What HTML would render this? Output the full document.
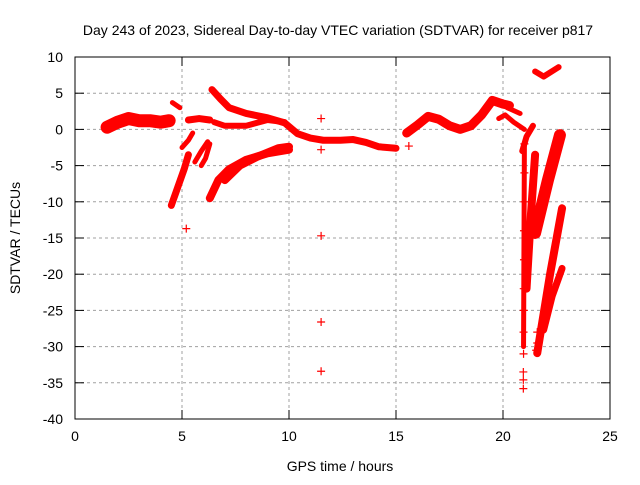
<!DOCTYPE html>
<html><head><meta charset="utf-8"><style>
body{margin:0;background:#fff}
text{font-family:"Liberation Sans",sans-serif;font-size:14px;fill:#000}
</style></head><body>
<svg id="chart" width="640" height="480" xmlns="http://www.w3.org/2000/svg">
<rect width="640" height="480" fill="#fff"/>
<text x="338" y="35" text-anchor="middle">Day 243 of 2023, Sidereal Day-to-day VTEC variation (SDTVAR) for receiver p817</text>
<g id="grid"></g><g id="marks"></g><g id="axes"></g>
<text x="340" y="471" text-anchor="middle">GPS time / hours</text>
<text transform="translate(20,238) rotate(-90)" text-anchor="middle">SDTVAR / TECUs</text>
</svg>
<script>
const xTicks=[0,5,10,15,20,25];
const yTicks=[10,5,0,-5,-10,-15,-20,-25,-30,-35,-40];
const seriesBands=[
 [[1.5,0.3],[2.0,1.0],[2.5,1.5],[3.0,1.2],[3.5,1.2],[4.0,1.0],[4.4,1.2]],
 [[4.55,3.7],[4.9,3.0]],
 [[4.5,-10.5],[4.8,-8],[5.1,-5.5],[5.3,-3.5]],
 [[5.0,-2.5],[5.3,-1.5],[5.5,-0.5]],
 [[5.3,1.3],[5.8,1.5],[6.3,1.3]],
 [[5.6,-4.5],[5.9,-3],[6.2,-1.7]],
 [[5.9,-5],[6.1,-4],[6.3,-2]],
 [[6.4,5.5],[6.8,4.2],[7.2,3.0],[8.0,2.2],[9.0,1.6],[9.8,0.9],[10.4,-0.6],[11.0,-1.2],[11.6,-1.5],[12.4,-1.5],[13.0,-1.4],[13.6,-1.8],[14.2,-2.4],[15.0,-2.6]],
 [[6.5,1.0],[7.0,0.5],[8.0,0.5],[9.0,1.3],[9.8,1.0]],
 [[6.3,-9.5],[6.7,-7],[7.2,-5.5],[8.0,-4.2],[9.0,-3.3],[10.0,-2.8]],
 [[7.0,-7],[7.7,-5],[8.5,-3.8],[9.5,-2.6],[10.0,-2.4]],
 [[15.5,-0.5],[16.0,0.6],[16.5,1.8],[17.0,1.4],[17.5,0.5],[18.0,0.0],[18.5,0.5],[19.0,2.0],[19.5,4.0],[20.0,3.5],[20.3,3.3]],
 [[19.8,1.5],[20.1,2.0],[20.5,1.0],[21.0,0.0]],
 [[20.2,3.0],[20.8,2.2]],
 [[20.9,-3],[21.1,-1],[21.4,0.5]],
 [[21.5,8.0],[21.9,7.3],[22.6,8.6]],
 [[21.5,-3.5],[21.3,-12],[21.1,-22]],
 [[22.66,-0.8],[22.1,-7],[21.5,-14.3]],
 [[22.76,-10.9],[22.2,-20],[21.6,-30.9]],
 [[22.76,-19.2],[22.3,-23],[21.9,-27.7]],
 [[21.0,-2],[20.98,-16],[20.96,-30]]
];
const bandWidths=[13,5,7,5,7,5,5,7,6,8,8,9,5,5,6,6,8,12,8,7,5];
const sparseHours=[21.0,21.0,21.0,20.98,20.98,20.97,20.97,20.96,20.96,20.95,20.95,20.95,5.2,11.5,11.5,11.5,11.5,11.5,15.6,21.6,21.6,21.55];
const sparseValues=[-2,-6,-10,-14,-18,-22,-25,-28,-31,-33.5,-34.6,-35.8,-13.7,1.5,-2.8,-14.7,-26.6,-33.4,-2.3,-28,-29.5,-30.5];
const NS="http://www.w3.org/2000/svg";
const X=h=>75+h*(535/25), Y=v=>57+(10-v)*(362/50);
const grid=document.getElementById('grid'),axes=document.getElementById('axes'),marks=document.getElementById('marks');
function el(t,a,p){const e=document.createElementNS(NS,t);for(const k in a)e.setAttribute(k,a[k]);p.appendChild(e);return e;}
xTicks.forEach(t=>{
 if(t>0&&t<25){const g=el('line',{x1:X(t),x2:X(t),y1:57,y2:419,stroke:'#a0a0a0','stroke-dasharray':'3,3'},grid);
 
 }
 el('line',{x1:X(t),x2:X(t),y1:419,y2:410,stroke:'#000'},axes);
 el('line',{x1:X(t),x2:X(t),y1:57,y2:66,stroke:'#000'},axes);
 const l=el('text',{x:X(t),y:441,'text-anchor':'middle'},axes);l.textContent=t;
 
 
});
yTicks.forEach(t=>{
 if(t<10&&t>-40){const g=el('line',{x1:75,x2:610,y1:Y(t),y2:Y(t),stroke:'#a0a0a0','stroke-dasharray':'3,3'},grid);
 
 }
 el('line',{x1:75,x2:84,y1:Y(t),y2:Y(t),stroke:'#000'},axes);
 el('line',{x1:601,x2:610,y1:Y(t),y2:Y(t),stroke:'#000'},axes);
 const l=el('text',{x:63,y:Y(t)+5,'text-anchor':'end'},axes);l.textContent=t;
 
 
});
const fr=el('rect',{x:75,y:57,width:535,height:362,fill:'none',stroke:'#000'},axes);


seriesBands.forEach((s,i)=>{
 const p=el('polyline',{points:s.map(d=>X(d[0])+','+Y(d[1])).join(' '),fill:'none',stroke:'#ff0000','stroke-width':bandWidths[i],'stroke-linecap':'round','stroke-linejoin':'round'},marks);
 
 
});
sparseHours.forEach((h,i)=>{
 const x=X(h),y=Y(sparseValues[i]);
 const m=el('path',{d:`M${x-4},${y}H${x+4}M${x},${y-4}V${y+4}`,stroke:'#ff0000','stroke-width':1.2},marks);
 
 
});
</script>
</body></html>
